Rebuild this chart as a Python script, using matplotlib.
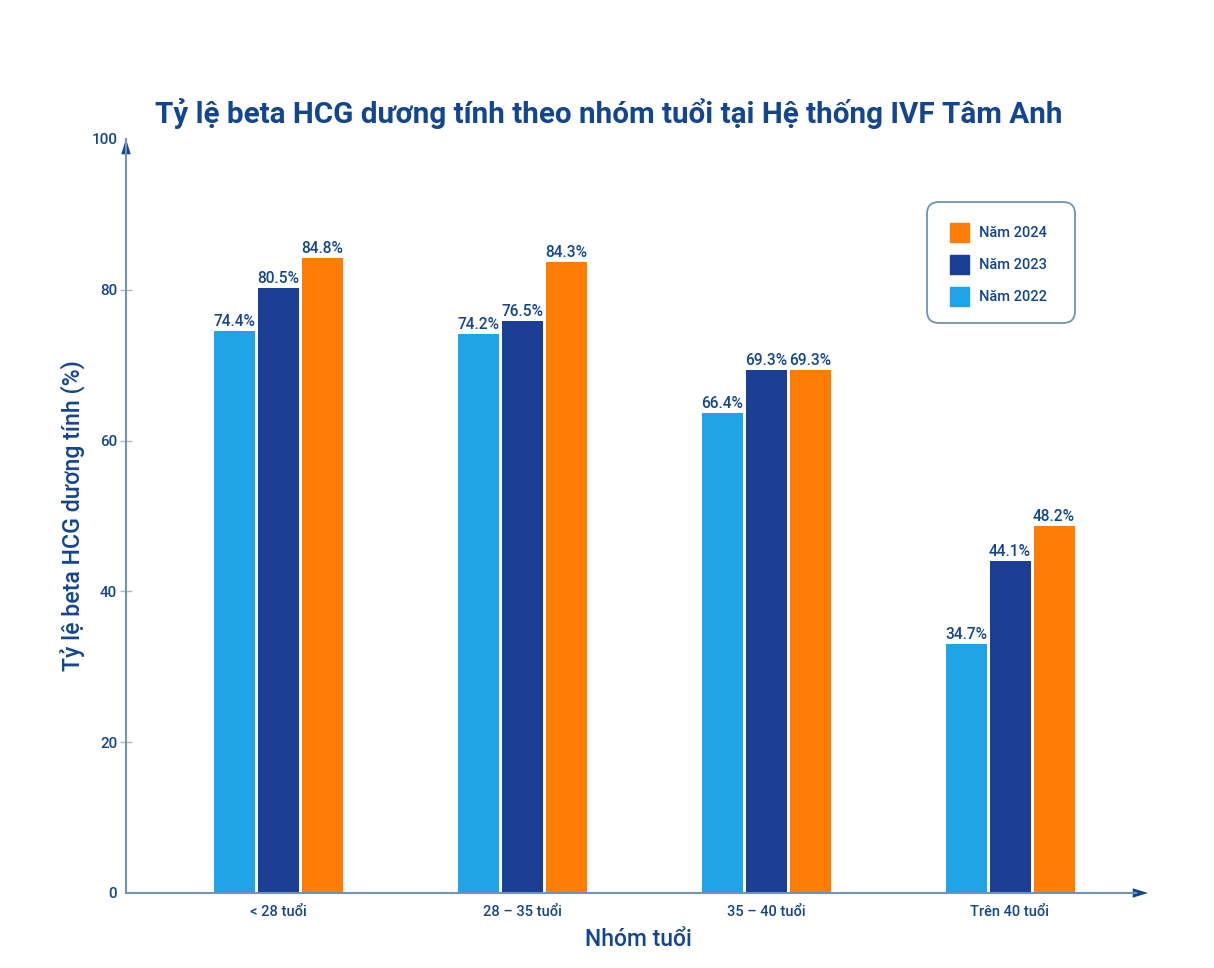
import matplotlib
matplotlib.use("Agg")
import matplotlib.pyplot as plt
from matplotlib.patches import Patch, FancyBboxPatch
from matplotlib.transforms import IdentityTransform
import numpy as np

plt.rcParams['font.family'] = ['Roboto', 'Noto Sans', 'DejaVu Sans']

W, H = 1214, 968
NAVY = '#14458f'
AXIS = '#6f93bd'

groups = ['< 28 tuổi', '28 – 35 tuổi', '35 – 40 tuổi', 'Trên 40 tuổi']
# bar heights as drawn, the printed labels don't always agree with them
bars_2022 = [74.5, 74.1, 63.7, 33.0]
bars_2023 = [80.2, 75.9, 69.4, 44.0]
bars_2024 = [84.2, 83.7, 69.4, 48.7]
labels_2022 = ['74.4%', '74.2%', '66.4%', '34.7%']
labels_2023 = ['80.5%', '76.5%', '69.3%', '44.1%']
labels_2024 = ['84.8%', '84.3%', '69.3%', '48.2%']
yticks = [0, 20, 40, 60, 80, 100]

fig = plt.figure(figsize=(W / 100, H / 100), dpi=100)
ax = fig.add_axes([126 / W, 1 - 893 / H, (1136 - 126) / W, (893 - 139) / H])

x = np.arange(len(groups))
width = 41 / 244
step = 44 / 244

series = [
    (bars_2022, labels_2022, '#1fa4e8', 'Năm 2022', -step),
    (bars_2023, labels_2023, '#1a3f94', 'Năm 2023', 0),
    (bars_2024, labels_2024, '#ff7d04', 'Năm 2024', step),
]
for vals, labs, color, name, off in series:
    ax.bar(x + off, vals, width, color=color, zorder=2)
    for xi, v, lab in zip(x + off, vals, labs):
        ax.annotate(lab, (xi, v), xytext=(0, 1.5), textcoords='offset points',
                    ha='center', va='bottom', fontsize=11.2, fontweight='medium', color=NAVY)

ax.set_xlim((126 - 278) / 244, (1136 - 278) / 244)
ax.set_ylim(0, 100)
ax.set_xticks(x, groups)
ax.set_yticks(yticks)
ax.tick_params(axis='x', length=0, pad=9, labelsize=10.5, labelcolor=NAVY)
ax.tick_params(axis='y', direction='inout', length=8.5, width=1, color='#a9b8c9', pad=2,
               labelsize=11, labelcolor=NAVY)
for lab in ax.get_xticklabels() + ax.get_yticklabels():
    lab.set_fontweight('medium')
# no tick mark visible at the two ends of the y axis
for i in [0, -1]:
    ax.yaxis.get_major_ticks()[i].tick1line.set_visible(False)

for side in ['top', 'right']:
    ax.spines[side].set_visible(False)
for side in ['left', 'bottom']:
    ax.spines[side].set_color(AXIS)
    ax.spines[side].set_linewidth(1.5)
    ax.spines[side].set_zorder(3)

# arrow heads at the end of both axes
head = dict(arrowstyle='-|>,head_length=0.55,head_width=0.17', color=NAVY, mutation_scale=20,
            shrinkA=0, shrinkB=0, lw=0)
ax.annotate('', xy=(1 + 12 / 1010, 0), xytext=(0.98, 0), xycoords='axes fraction',
            arrowprops=head, annotation_clip=False)
ax.annotate('', xy=(0, 1), xytext=(0, 0.97), xycoords='axes fraction',
            arrowprops=head, annotation_clip=False)

ax.set_xlabel('Nhóm tuổi', fontsize=16.5, fontweight='medium', color=NAVY, labelpad=6, x=0.507)
ax.set_ylabel('Tỷ lệ beta HCG dương tính (%)', fontsize=16.7, fontweight='medium', color=NAVY, labelpad=4)

fig.text(609 / W, 1 - 114 / H, 'Tỷ lệ beta HCG dương tính theo nhóm tuổi tại Hệ thống IVF Tâm Anh',
         ha='center', va='center', fontsize=21.3, fontweight='bold', color=NAVY)

# legend box is wider on the right than the entries need, so it gets its own frame
frame = FancyBboxPatch((927, H - 323), 148, 121, boxstyle='round,pad=0,rounding_size=12',
                       transform=IdentityTransform(), fc='white', ec=AXIS, lw=1.3, zorder=5, clip_on=False)
ax.add_patch(frame)
handles = [Patch(color=c, label=n) for _, _, c, n, _ in reversed(series)]
leg = ax.legend(handles=handles, loc='upper left',
                bbox_to_anchor=(950 / W, 1 - 223 / H), bbox_transform=fig.transFigure,
                frameon=False, borderpad=0, borderaxespad=0,
                handlelength=1.3, handleheight=1.62, handletextpad=0.69,
                labelspacing=0.89, labelcolor=NAVY,
                prop={'weight': 'medium', 'size': 10.5})
leg.set_zorder(6)

fig.savefig('out.png', dpi=100)
